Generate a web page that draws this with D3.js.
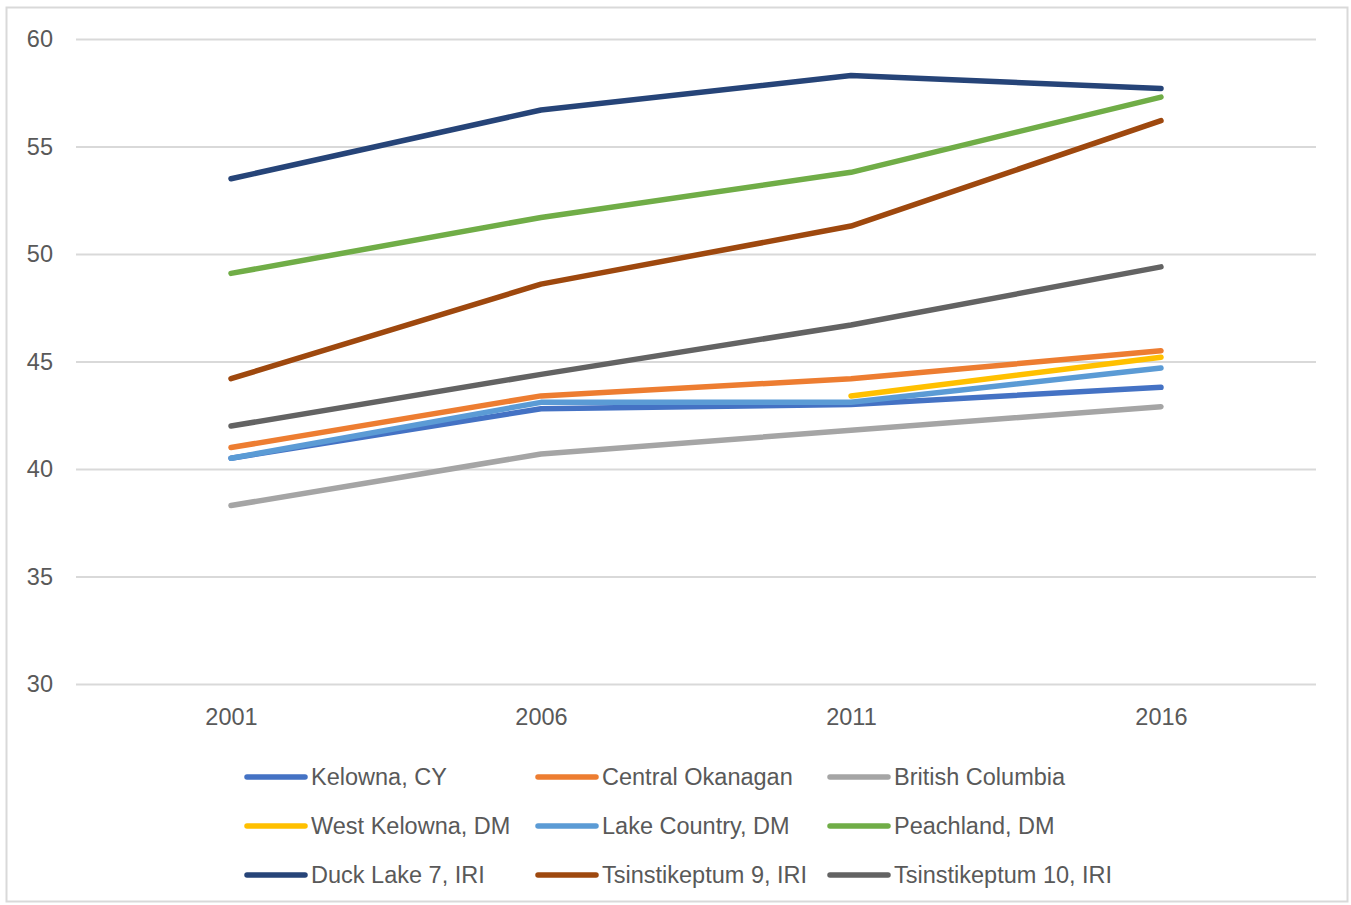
<!DOCTYPE html>
<html><head><meta charset="utf-8">
<script src="https://cdn.jsdelivr.net/npm/d3@7"></script>
<style>body{margin:0;background:#fff;} svg{display:block;}</style>
</head><body>
<svg id="chart" width="1351" height="905"></svg>
<script>
const years = ["2001", "2006", "2011", "2016"];
const yTicks = [30, 35, 40, 45, 50, 55, 60];
const seriesNames = ["Kelowna, CY", "Central Okanagan", "British Columbia", "West Kelowna, DM", "Lake Country, DM", "Peachland, DM", "Duck Lake 7, IRI", "Tsinstikeptum 9, IRI", "Tsinstikeptum 10, IRI"];
const seriesColors = ["#4472C4", "#ED7D31", "#A5A5A5", "#FFC000", "#5B9BD5", "#70AD47", "#264478", "#9E480E", "#636363"];
const kelowna = [40.5, 42.8, 43.0, 43.8];
const centralOkanagan = [41.0, 43.4, 44.2, 45.5];
const britishColumbia = [38.3, 40.7, 41.8, 42.9];
const westKelowna = [null, null, 43.4, 45.2];
const lakeCountry = [40.5, 43.1, 43.1, 44.7];
const peachland = [49.1, 51.7, 53.8, 57.3];
const duckLake = [53.5, 56.7, 58.3, 57.7];
const tsin9 = [44.2, 48.6, 51.3, 56.2];
const tsin10 = [42.0, 44.4, 46.7, 49.4];
const seriesValues = [kelowna, centralOkanagan, britishColumbia, westKelowna, lakeCountry, peachland, duckLake, tsin9, tsin10];

const svg = d3.select("#chart");
const font = "'Liberation Sans', Arial, sans-serif";
const textColor = "#595959";

svg.append("rect").attr("x", 6.5).attr("y", 7.5).attr("width", 1341).attr("height", 894)
  .attr("fill", "#fff").attr("stroke", "#d9d9d9").attr("stroke-width", 2);

const x = d3.scalePoint().domain(years).range([76, 1316]).padding(0.5);
const y = d3.scaleLinear().domain([30, 60]).range([684, 39]);

const yAxis = d3.axisLeft(y).tickValues(yTicks).tickSize(-(1316 - 76)).tickPadding(23);
const gy = svg.append("g").attr("transform", "translate(76,0)").call(yAxis);
gy.select(".domain").remove();
gy.selectAll(".tick line").attr("stroke", "#d9d9d9").attr("stroke-width", 2);
gy.selectAll(".tick text").attr("fill", textColor).style("font-family", font).style("font-size", "23.5px");

const xAxis = d3.axisBottom(x).tickSize(0).tickPadding(24);
const gx = svg.append("g").attr("transform", "translate(0,684)").call(xAxis);
gx.select(".domain").remove();
gx.selectAll(".tick text").attr("fill", textColor).style("font-family", font).style("font-size", "23.5px");

const line = d3.line().defined(d => d != null).x((d, i) => x(years[i])).y(d => y(d));
seriesValues.forEach((vals, i) => {
  svg.append("path").datum(vals).attr("d", line)
    .attr("fill", "none").attr("stroke", seriesColors[i]).attr("stroke-width", 5.5)
    .attr("stroke-linecap", "round").attr("stroke-linejoin", "round");
});

const colX = [247, 538, 830];
const rowY = [777, 826, 875];
seriesNames.forEach((name, i) => {
  const cx = colX[i % 3], cy = rowY[Math.floor(i / 3)];
  svg.append("line").attr("x1", cx).attr("x2", cx + 58).attr("y1", cy).attr("y2", cy)
    .attr("stroke", seriesColors[i]).attr("stroke-width", 5.5).attr("stroke-linecap", "round");
  svg.append("text").attr("x", cx + 64).attr("y", cy).attr("dy", "0.35em")
    .attr("fill", textColor).style("font-family", font).style("font-size", "23.5px").text(name);
});
</script>
</body></html>
